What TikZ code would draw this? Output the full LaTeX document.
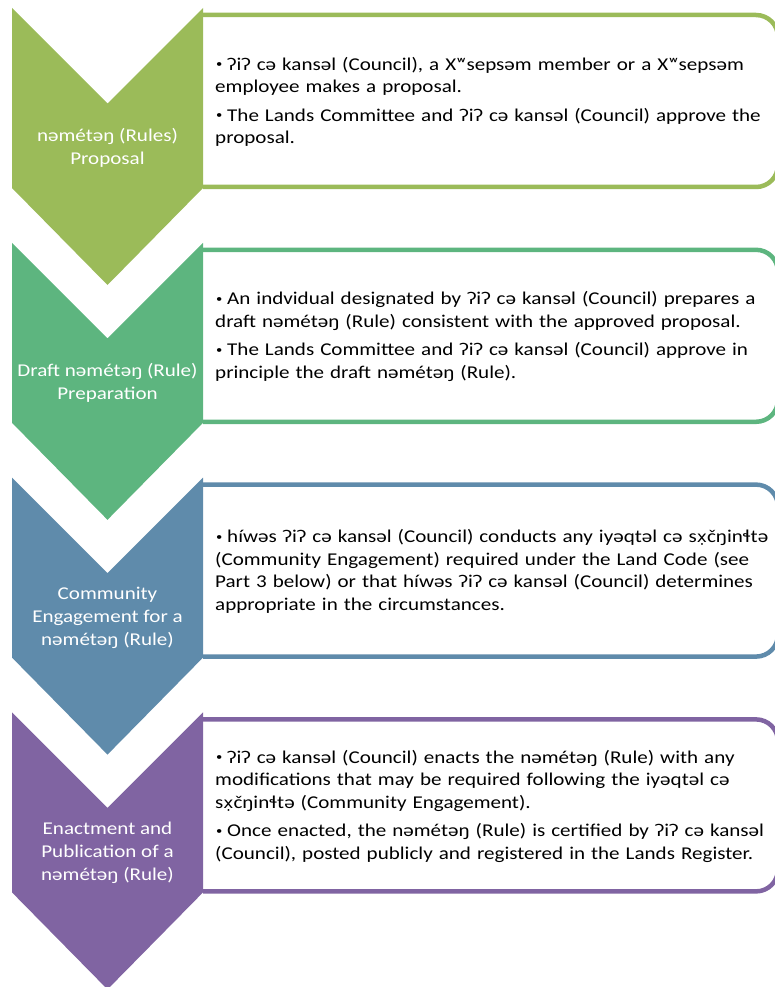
\documentclass[tikz,border=0pt]{standalone}
\usepackage{fontspec}
\setmainfont{Carlito}[FakeStretch=1.17]
\newfontfamily\dotfont{DejaVu Sans}[Scale=0.86,FakeStretch=1.1]
\usetikzlibrary{positioning}

\definecolor{stepA}{HTML}{9BBB59}
\definecolor{stepB}{HTML}{5DB57F}
\definecolor{stepC}{HTML}{5F8BAB}
\definecolor{stepD}{HTML}{8064A2}

% one bullet paragraph
\newcommand{\bul}[1]{\par\hangindent=12pt\hangafter=1\makebox[12pt][l]{\hspace{1pt}\raisebox{0.12em}{\scalebox{0.6}{\textbullet}}}#1\par}
% x with dot below
\newcommand{\xd}{{\dotfont x̣}}

\tikzset{
  chevlabel/.style={text=white, align=center, inner sep=0pt, font=\fontsize{18}{23}\selectfont},
  boxtext/.style={anchor=west, text width=555pt, align=left, inner sep=0pt,
    font=\fontsize{18}{22.5}\selectfont, execute at begin node={\setlength{\parskip}{6pt}}},
  boxline/.style={line width=4.5pt, rounded corners=22pt}
}

\begin{document}
\begin{tikzpicture}[x=1pt,y=-1pt]

\useasboundingbox (0,0) rectangle (775,987);
\clip (0,0) rectangle (775,987);

\foreach \i/\col in {0/stepA,1/stepB,2/stepC,3/stepD}
{
\pgfmathsetmacro{\t}{8+234.8*\i}
\draw[\col,boxline] (203,\t+7) -- (778,\t+7) -- (778,\t+179) -- (203,\t+179);
\fill[\col] (12,\t) -- (107.5,\t+95.5) -- (203,\t) -- (203,\t+180) -- (107.5,\t+277) -- (12,\t+180) -- cycle;
\coordinate (c\i) at (107.5,\t+140);
\coordinate (b\i) at (215,\t+86);
}

\node[chevlabel] (lab0) at (c0) {nəmétəŋ (Rules)\\Proposal};
\node[chevlabel] (lab1) at (c1) {Draft nəmétəŋ (Rule)\\Preparation};
\node[chevlabel] (lab2) at (c2) {Community\\Engagement for a\\nəmétəŋ (Rule)};
\node[chevlabel] (lab3) at (c3) {Enactment and\\Publication of a\\nəmétəŋ (Rule)};

\node[boxtext] (txt0) at (b0) {%
\bul{ʔiʔ cə kansəl (Council), a Xʷsepsəm member or a Xʷsepsəm\\employee makes a proposal.}%
\bul{The Lands Committee and ʔiʔ cə kansəl (Council) approve the\\proposal.}};
\node[boxtext] (txt1) at (b1) {%
\bul{An indvidual designated by ʔiʔ cə kansəl (Council) prepares a\\draft nəmétəŋ (Rule) consistent with the approved proposal.}%
\bul{The Lands Committee and ʔiʔ cə kansəl (Council) approve in\\principle the draft nəmétəŋ (Rule).}};
\node[boxtext] (txt2) at (b2) {%
\bul{híwəs ʔiʔ cə kansəl (Council) conducts any iyəqtəl cə s\xd čŋinɬtə\\(Community Engagement) required under the Land Code (see\\Part 3 below) or that híwəs ʔiʔ cə kansəl (Council) determines\\appropriate in the circumstances.}};
\node[boxtext] (txt3) at (b3) {%
\bul{ʔiʔ cə kansəl (Council) enacts the nəmétəŋ (Rule) with any\\modifications that may be required following the iyəqtəl cə\\s\xd čŋinɬtə (Community Engagement).}%
\bul{Once enacted, the nəmétəŋ (Rule) is certified by ʔiʔ cə kansəl\\(Council), posted publicly and registered in the Lands Register.}};

\end{tikzpicture}
\end{document}
